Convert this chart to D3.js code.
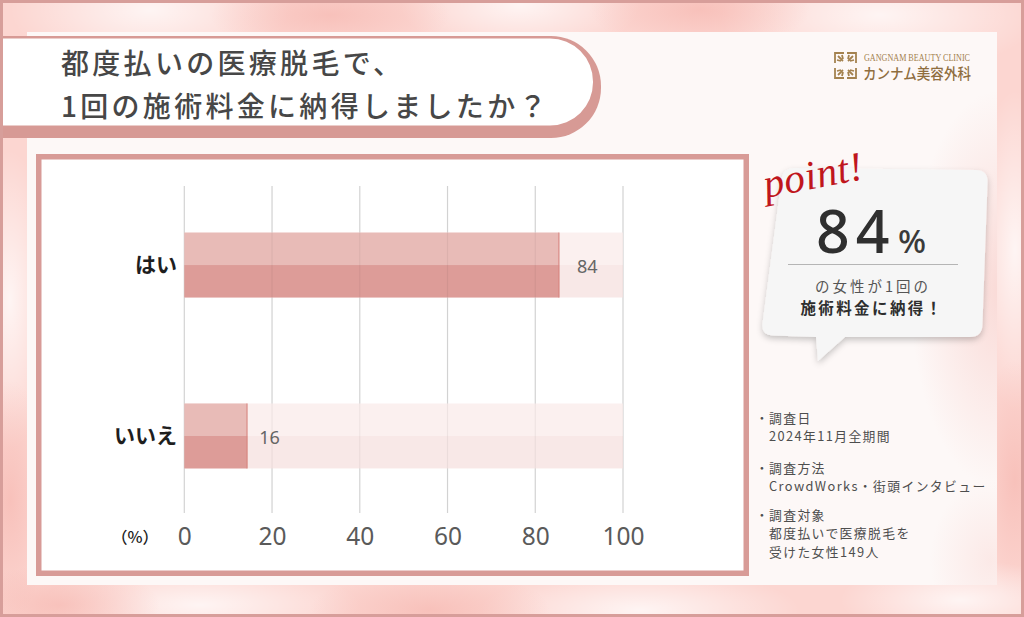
<!DOCTYPE html>
<html>
<head>
<meta charset="utf-8">
<script src="https://cdn.jsdelivr.net/npm/d3@7"></script>
<style>
  html, body { margin: 0; padding: 0; background: #fcd9d5; }
  svg { display: block; }
</style>
</head>
<body>
<svg id="chart" width="1024" height="617"></svg>
<script>
// ---------- data ----------
const categories = ["はい", "いいえ"];
const barValues = [85.5, 14.4];          // drawn bar lengths (%)
const valueLabels = ["84", "16"];        // printed labels
const xTicks = [0, 20, 40, 60, 80, 100];
const trackMax = 100;
const titleLines = ["都度払いの医療脱毛で、", "1回の施術料金に納得しましたか？"];
const pointValue = "84";
const pointLines = ["の女性が1回の", "施術料金に納得！"];
const notes = [
  ["調査日", "2024年11月全期間"],
  ["調査方法", "CrowdWorks・街頭インタビュー"],
  ["調査対象", "都度払いで医療脱毛を", "受けた女性149人"]
];

const JP = "'Noto Sans CJK JP', 'Noto Sans', sans-serif";
const svg = d3.select("#chart");
const defs = svg.append("defs");

// ---------- background ----------
const rg = (id, stops) => {
  const g = defs.append("radialGradient").attr("id", id);
  stops.forEach(s => g.append("stop").attr("offset", s[0]).attr("stop-color", s[1]).attr("stop-opacity", s[2]));
};
rg("gWhite", [[0, "#ffffff", 0.75], [1, "#ffffff", 0]]);
rg("gPink", [[0, "#f6b8b1", 0.7], [1, "#f6b8b1", 0]]);
rg("gPanelPink", [[0, "#f9d3cf", 0.8], [1, "#f9d3cf", 0]]);
defs.append("filter").attr("id", "shadow").attr("x", "-20%").attr("y", "-20%").attr("width", "140%").attr("height", "140%")
  .append("feDropShadow").attr("dx", 0).attr("dy", 3).attr("stdDeviation", 3)
  .attr("flood-color", "#000").attr("flood-opacity", 0.22);

svg.append("rect").attr("width", 1024).attr("height", 617).attr("fill", "#fcd6d1");
const blobs = [
  ["gWhite", 150, 10, 140, 60], ["gWhite", 520, 5, 120, 50], ["gWhite", 880, 15, 160, 60],
  ["gPink", 330, 15, 120, 40], ["gPink", 700, 10, 110, 40],
  ["gWhite", 10, 300, 40, 150], ["gPink", 10, 500, 40, 120],
  ["gWhite", 1015, 250, 40, 160], ["gPink", 1015, 480, 40, 120],
  ["gWhite", 200, 605, 160, 40], ["gWhite", 640, 610, 160, 40], ["gPink", 430, 610, 120, 40],
  ["gWhite", 960, 600, 120, 40], ["gPink", 60, 605, 100, 40]
];
svg.append("g").selectAll("ellipse").data(blobs).join("ellipse")
  .attr("cx", d => d[1]).attr("cy", d => d[2]).attr("rx", d => d[3]).attr("ry", d => d[4])
  .attr("fill", d => `url(#${d[0]})`);

// inner panel
defs.append("clipPath").attr("id", "panelClip").append("rect")
  .attr("x", 27).attr("y", 32).attr("width", 970).attr("height", 553);
svg.append("rect").attr("x", 27).attr("y", 32).attr("width", 970).attr("height", 553).attr("fill", "#fdf8f7");
const pg = svg.append("g").attr("clip-path", "url(#panelClip)");
pg.append("ellipse").attr("cx", 1000).attr("cy", 290).attr("rx", 90).attr("ry", 200).attr("fill", "url(#gPanelPink)");
pg.append("ellipse").attr("cx", 990).attr("cy", 560).attr("rx", 60).attr("ry", 80).attr("fill", "url(#gPanelPink)").attr("opacity", 0.5);

// outer border
svg.append("rect").attr("x", 1.5).attr("y", 1.5).attr("width", 1021).attr("height", 614)
  .attr("fill", "none").attr("stroke", "#d79e9a").attr("stroke-width", 3);

// ---------- title box ----------
function rightRounded(x0, y0, x1, y1, r) {
  return `M${x0},${y0} L${x1 - r},${y0} A${r},${r} 0 0 1 ${x1},${y0 + r} L${x1},${y1 - r} A${r},${r} 0 0 1 ${x1 - r},${y1} L${x0},${y1} Z`;
}
svg.append("path").attr("d", rightRounded(3, 36, 601, 138, 50)).attr("fill", "#d79a95");
svg.append("path").attr("d", rightRounded(3, 38.5, 593, 125.5, 43)).attr("fill", "#ffffff");
svg.append("g").selectAll("text").data(titleLines).join("text")
  .attr("x", 61).attr("y", (d, i) => 62 + i * 43)
  .attr("dominant-baseline", "central")
  .attr("font-family", JP).attr("font-weight", 500).attr("font-size", 28)
  .attr("letter-spacing", 3.3).attr("fill", "#474747")
  .text(d => d);

// ---------- logo ----------
const logo = svg.append("g").attr("transform", "translate(835,53)");
const gold = "#a4824f";
[[0, 0, 1, 1], [21, 0, -1, 1], [0, 25, 1, -1], [21, 25, -1, -1]].forEach(([cx, cy, sx, sy]) => {
  logo.append("path")
    .attr("d", `M${cx},${cy + sy * 10} L${cx},${cy} L${cx + sx * 9},${cy} M${cx + sx * 3},${cy + sy * 3} l${sx * 5},${sy * 5} M${cx + sx * 2},${cy + sy * 7} l${sx * 4},${sy * 1} M${cx + sx * 7},${cy + sy * 2} l${sx * 1},${sy * 4}`)
    .attr("stroke", gold).attr("stroke-width", 1.8).attr("fill", "none");
});
svg.append("text").attr("x", 864).attr("y", 58).attr("dominant-baseline", "central")
  .attr("font-family", "'Liberation Serif', serif").attr("font-size", 9.5).attr("fill", gold)
  .attr("textLength", 106).attr("lengthAdjust", "spacingAndGlyphs")
  .text("GANGNAM BEAUTY CLINIC");
svg.append("text").attr("x", 863).attr("y", 72.5).attr("dominant-baseline", "central")
  .attr("font-family", JP).attr("font-size", 14.5).attr("fill", "#8f6e3f").attr("font-weight", 500)
  .attr("textLength", 108).attr("lengthAdjust", "spacingAndGlyphs")
  .text("カンナム美容外科");

// ---------- chart frame ----------
svg.append("rect").attr("x", 38.75).attr("y", 156.75).attr("width", 707.5).attr("height", 416.5)
  .attr("fill", "#ffffff").attr("stroke", "#d89b97").attr("stroke-width", 5.5);

const x = d3.scaleLinear().domain([0, trackMax]).range([184.3, 623]);
const y = d3.scaleBand().domain(categories).range([150.5, 550.5]).paddingInner(0.62).paddingOuter(0.48);
const bw = y.bandwidth();

const plot = svg.append("g");
// gridlines (under)
plot.append("g").selectAll("line").data(xTicks).join("line")
  .attr("x1", d => x(d)).attr("x2", d => x(d)).attr("y1", 186).attr("y2", 513)
  .attr("stroke", "#dedede").attr("stroke-width", 1.2);

// tracks
const rows = categories.map((c, i) => ({ c, v: barValues[i], lab: valueLabels[i] }));
const row = plot.selectAll("g.row").data(rows).join("g").attr("class", "row");
row.append("rect").attr("x", x(0)).attr("y", d => y(d.c)).attr("width", x(trackMax) - x(0)).attr("height", bw / 2)
  .attr("fill", "#fbf0ef");
row.append("rect").attr("x", x(0)).attr("y", d => y(d.c) + bw / 2).attr("width", x(trackMax) - x(0)).attr("height", bw / 2)
  .attr("fill", "#f8e8e7");
// bars
row.append("rect").attr("x", x(0)).attr("y", d => y(d.c)).attr("width", d => x(d.v) - x(0)).attr("height", bw / 2)
  .attr("fill", "#e8bbb7");
row.append("rect").attr("x", x(0)).attr("y", d => y(d.c) + bw / 2).attr("width", d => x(d.v) - x(0)).attr("height", bw / 2)
  .attr("fill", "#dd9c98");
row.append("line").attr("x1", d => x(d.v) - 0.5).attr("x2", d => x(d.v) - 0.5)
  .attr("y1", d => y(d.c)).attr("y2", d => y(d.c) + bw)
  .attr("stroke", "#d88680").attr("stroke-width", 1);

// gridlines (faint over bars)
plot.append("g").selectAll("line").data(xTicks).join("line")
  .attr("x1", d => x(d)).attr("x2", d => x(d)).attr("y1", 186).attr("y2", 513)
  .attr("stroke", "#000").attr("stroke-opacity", 0.05).attr("stroke-width", 1.2);

// value labels
row.append("text")
  .attr("x", d => x(d.v) + (d.v > 50 ? 28 : 22)).attr("y", d => y(d.c) + bw / 2 + 1)
  .attr("text-anchor", "middle").attr("dominant-baseline", "central")
  .attr("font-family", "'Noto Sans', sans-serif").attr("font-size", 18).attr("fill", "#666")
  .text(d => d.lab);

// category labels
const yAxis = d3.axisLeft(y).tickSize(0).tickPadding(0);
const yg = svg.append("g").attr("transform", "translate(177,0)").call(yAxis);
yg.select(".domain").remove();
yg.selectAll("text").attr("font-family", JP).attr("font-size", 21).attr("font-weight", 700)
  .attr("fill", "#1e1e1e").attr("dy", "0.35em");

// x axis tick labels
const xAxis = d3.axisBottom(x).tickValues(xTicks).tickSize(0).tickPadding(0).tickFormat(d3.format("d"));
const xg = svg.append("g").attr("transform", "translate(0,536)").call(xAxis);
xg.select(".domain").remove();
xg.selectAll("text").attr("y", 0).attr("dy", "0.36em")
  .attr("font-family", "'Noto Sans', sans-serif").attr("font-size", 24.5).attr("fill", "#5a5a5a");
svg.append("text").attr("x", 135).attr("y", 536).attr("text-anchor", "middle").attr("dominant-baseline", "central")
  .attr("font-family", JP).attr("font-size", 16).attr("font-weight", 500).attr("fill", "#222").text("（%）");

// ---------- point bubble ----------
function roundedPoly(pts, radii) {
  let d = "";
  const n = pts.length;
  pts.forEach((p, i) => {
    const prev = pts[(i - 1 + n) % n], next = pts[(i + 1) % n], r = radii[i];
    const up = [prev[0] - p[0], prev[1] - p[1]], un = [next[0] - p[0], next[1] - p[1]];
    const lp = Math.hypot(...up), ln = Math.hypot(...un);
    const a = [p[0] + up[0] / lp * r, p[1] + up[1] / lp * r];
    const b = [p[0] + un[0] / ln * r, p[1] + un[1] / ln * r];
    d += (i === 0 ? "M" : "L") + a[0] + "," + a[1];
    if (r > 0) d += `Q${p[0]},${p[1]} ${b[0]},${b[1]}`;
  });
  return d + "Z";
}
const bubblePts = [[783, 168], [988, 170], [982, 337], [845, 337], [818, 361], [816, 337], [761, 335]];
svg.append("path").attr("d", roundedPoly(bubblePts, [12, 12, 12, 0, 0, 0, 12]))
  .attr("fill", "#f6f6f6").attr("filter", "url(#shadow)");

svg.append("text").attr("x", 766).attr("y", 198)
  .attr("transform", "rotate(-11,766,198)")
  .attr("font-family", "'Liberation Serif', serif").attr("font-style", "italic").attr("font-size", 41)
  .attr("fill", "#c0161d").attr("letter-spacing", 0.5).text("point!");

svg.append("text").attr("x", 816).attr("y", 253)
  .attr("font-family", "'Noto Sans', sans-serif").attr("font-weight", 500).attr("font-size", 59)
  .attr("letter-spacing", 6).attr("fill", "#2f2f2f").text(pointValue);
svg.append("text").attr("x", 898).attr("y", 253)
  .attr("font-family", "'Noto Sans', sans-serif").attr("font-weight", 500).attr("font-size", 33)
  .attr("fill", "#3a3a3a").text("%");
svg.append("line").attr("x1", 788).attr("x2", 958).attr("y1", 264.5).attr("y2", 264.5)
  .attr("stroke", "#b5b5b5").attr("stroke-width", 1);
svg.append("g").selectAll("text").data(pointLines).join("text")
  .attr("x", (d, i) => i === 0 ? 873 : 872).attr("y", (d, i) => 285 + i * 22)
  .attr("text-anchor", "middle").attr("dominant-baseline", "central")
  .attr("font-family", JP).attr("font-size", (d, i) => i === 0 ? 14.5 : 15.5)
  .attr("font-weight", (d, i) => i === 0 ? 400 : 700)
  .attr("letter-spacing", (d, i) => i === 0 ? 3 : 2.4)
  .attr("fill", (d, i) => i === 0 ? "#555" : "#2e2e2e")
  .text(d => d);

// ---------- notes ----------
const noteStarts = [417, 467, 514];
const lineGap = 18.6;
const ng = svg.append("g").attr("font-family", JP).attr("font-size", 12.8)
  .attr("letter-spacing", 1.4).attr("fill", "#4e4e4e");
notes.forEach((lines, i) => {
  ng.append("text").attr("x", 762).attr("y", noteStarts[i]).attr("text-anchor", "middle")
    .attr("letter-spacing", 0).attr("dominant-baseline", "central").text("・");
  lines.forEach((line, j) => {
    ng.append("text").attr("x", 769).attr("y", noteStarts[i] + j * lineGap)
      .attr("dominant-baseline", "central").text(line);
  });
});
</script>
</body>
</html>
